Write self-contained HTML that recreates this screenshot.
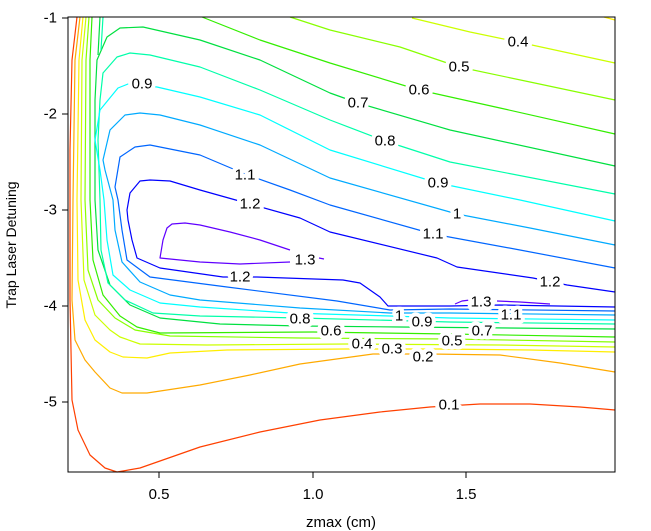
<!DOCTYPE html>
<html><head><meta charset="utf-8"><style>
html,body{margin:0;padding:0;background:#fff;}
svg{display:block;font-family:"Liberation Sans",Arial,sans-serif;}
.l{fill:none;stroke-width:1.2;stroke-linejoin:round}
.t{font-size:15px;fill:#000;paint-order:stroke;stroke:#fff;stroke-width:8px;stroke-linejoin:round;text-anchor:middle;dominant-baseline:central}
</style></head><body>
<svg width="651" height="531" viewBox="0 0 651 531">
<rect x="0" y="0" width="651" height="531" fill="#fff"/>
<path class="l" stroke="#ff4000" d="M77,17 L72,60 L70,150 L70,300 L72,400 L78,430 L90,455 L105,468 L117,472 L140,468 L200,447 L260,432 L320,420 L380,412 L430,407 L480,404 L530,404 L580,407 L615,410"/>
<path class="l" stroke="#ffaa00" d="M80,17 L75,60 L73,200 L72,300 L75,340 L85,360 L95,372 L110,388 L122,393 L147,393 L200,385 L250,375 L300,364 L373,354 L430,354 L500,355 L560,363 L615,372"/>
<path class="l" stroke="#ffee00" d="M83,17 L79,60 L77,200 L78,280 L85,320 L95,340 L110,352 L123,357 L147,358 L170,353 L227,350 L347,349 L440,349 L530,350 L615,352 M604,17 L615,20"/>
<path class="l" stroke="#ccff00" d="M86,17 L82,60 L81,200 L84,280 L95,315 L110,330 L120,337 L140,344 L207,345 L347,344 L500,345 L615,347 M412,18 L470,32 L518,42 L615,63"/>
<path class="l" stroke="#88ff00" d="M89,17 L86,60 L85,200 L88,270 L98,300 L115,318 L135,330 L170,336 L300,338 L450,339 L615,342 M290,17 L330,30 L400,47 L459,67 L530,82 L615,100"/>
<path class="l" stroke="#33ee00" d="M92,17 L90,60 L90,200 L93,260 L103,295 L120,316 L137,327 L160,333 L313,332 L450,334 L615,337 M202,17 L260,40 L330,63 L419,90 L500,108 L615,134"/>
<path class="l" stroke="#00e040" d="M615,329 L400,327 L300,326 L220,324 L160,318 L130,305 L110,285 L98,250 L95,200 L95,100 L97,60 L107,37 L120,28 L143,27 L200,40 L260,60 L330,93 L358,103 L450,130 L615,166 M100,17 L98,55"/>
<path class="l" stroke="#00ffaa" d="M615,324 L450,322 L300,318 L200,316 L153,313 L125,300 L108,283 L101,250 L100,200 L98,140 L100,100 L103,73 L117,57 L130,53 L150,55 L200,67 L260,90 L330,120 L385,141 L450,162 L615,194 M103,17 L101,50"/>
<path class="l" stroke="#00ffff" d="M615,320 L450,318 L390,316 L290,313 L200,307 L160,303 L130,290 L113,275 L107,240 L104,200 L100,170 L95,140 L100,110 L118,88 L128,84 L157,87 L200,97 L260,115 L330,150 L438,183 L520,200 L615,221"/>
<path class="l" stroke="#00aaff" d="M615,315 L450,313 L390,313 L300,308 L200,300 L170,295 L140,282 L122,262 L115,230 L113,200 L105,170 L103,160 L110,130 L125,115 L140,113 L160,115 L200,125 L260,145 L330,178 L457,214 L530,228 L615,245"/>
<path class="l" stroke="#0066ff" d="M615,311 L450,309 L390,310 L337,301 L227,287 L150,277 L127,260 L122,230 L118,200 L115,187 L120,157 L135,147 L150,145 L200,155 L245,174 L290,190 L330,205 L433,234 L520,250 L615,268"/>
<path class="l" stroke="#0000ff" d="M615,307 L500,305 L450,306 L395,306 L388,306 L380,297 L360,283 L343,280 L257,277 L223,277 L160,268 L137,258 L132,240 L128,220 L127,210 L130,193 L140,181 L150,180 L170,181 L200,190 L250,204 L300,218 L330,232 L437,258 L457,267 L533,278 L567,285 L615,292"/>
<path class="l" stroke="#6000ff" d="M290,250 L260,240 L230,232 L200,225 L185,223 L172,224 L167,228 L163,240 L160,258 L200,262 L240,264 L290,262 M319,258 L324,259 M455,304 L462,301 L470,300 M497,301 L520,302 L550,304"/>
<text x="449" y="405" class="t">0.1</text>
<text x="423" y="357" class="t">0.2</text>
<text x="392" y="349" class="t">0.3</text>
<text x="362" y="344" class="t">0.4</text>
<text x="518" y="42" class="t">0.4</text>
<text x="459" y="67" class="t">0.5</text>
<text x="452" y="341" class="t">0.5</text>
<text x="419" y="90" class="t">0.6</text>
<text x="331" y="331" class="t">0.6</text>
<text x="358" y="103" class="t">0.7</text>
<text x="482" y="331" class="t">0.7</text>
<text x="385" y="141" class="t">0.8</text>
<text x="300" y="319" class="t">0.8</text>
<text x="142" y="84" class="t">0.9</text>
<text x="438" y="183" class="t">0.9</text>
<text x="422" y="322" class="t">0.9</text>
<text x="457" y="214" class="t">1</text>
<text x="399" y="316" class="t">1</text>
<text x="245" y="175" class="t">1.1</text>
<text x="433" y="234" class="t">1.1</text>
<text x="511" y="315" class="t">1.1</text>
<text x="250" y="204" class="t">1.2</text>
<text x="240" y="277" class="t">1.2</text>
<text x="550" y="282" class="t">1.2</text>
<text x="305" y="260" class="t">1.3</text>
<text x="481" y="302" class="t">1.3</text>
<rect x="68" y="17" width="547" height="455" fill="none" stroke="#000" stroke-width="1"/>
<g stroke="#000" stroke-width="1">
<line x1="62" y1="18" x2="68" y2="18"/><line x1="62" y1="114" x2="68" y2="114"/><line x1="62" y1="210" x2="68" y2="210"/><line x1="62" y1="306" x2="68" y2="306"/><line x1="62" y1="402" x2="68" y2="402"/>
<line x1="159" y1="472" x2="159" y2="478"/><line x1="313" y1="472" x2="313" y2="478"/><line x1="466" y1="472" x2="466" y2="478"/>
</g>
<g font-size="15" fill="#000" text-anchor="end" dominant-baseline="central">
<text x="57" y="18">-1</text><text x="57" y="114">-2</text><text x="57" y="210">-3</text><text x="57" y="306">-4</text><text x="57" y="402">-5</text>
</g>
<g font-size="15" fill="#000" text-anchor="middle">
<text x="159" y="499">0.5</text><text x="313" y="499">1.0</text><text x="466" y="499">1.5</text>
<text x="341" y="527">zmax (cm)</text>
</g>
<text x="16" y="245" font-size="14" text-anchor="middle" transform="rotate(-90 16 245)">Trap Laser Detuning</text>
</svg>
</body></html>
